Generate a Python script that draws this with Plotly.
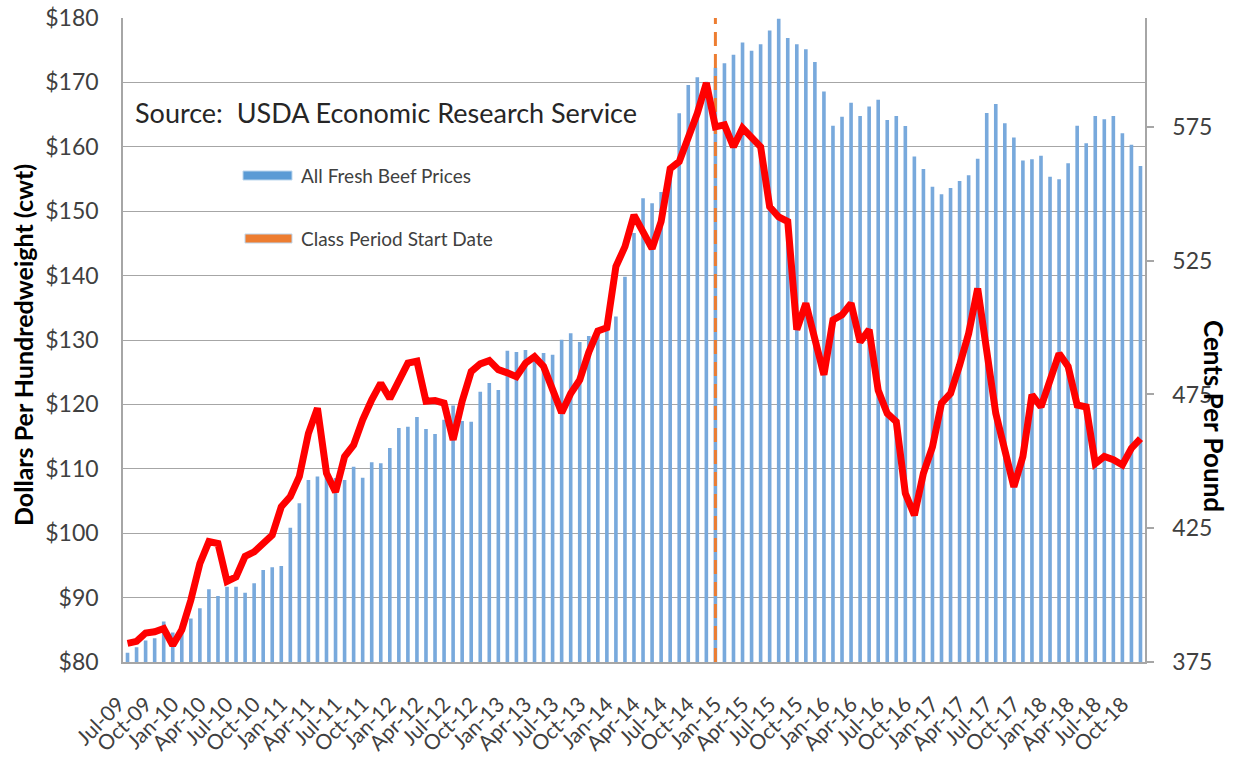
import plotly.graph_objects as go

# ---------------- data ----------------
months = [
    "Jul-09", "Aug-09", "Sep-09", "Oct-09", "Nov-09", "Dec-09",
    "Jan-10", "Feb-10", "Mar-10", "Apr-10", "May-10", "Jun-10", "Jul-10", "Aug-10", "Sep-10", "Oct-10", "Nov-10", "Dec-10",
    "Jan-11", "Feb-11", "Mar-11", "Apr-11", "May-11", "Jun-11", "Jul-11", "Aug-11", "Sep-11", "Oct-11", "Nov-11", "Dec-11",
    "Jan-12", "Feb-12", "Mar-12", "Apr-12", "May-12", "Jun-12", "Jul-12", "Aug-12", "Sep-12", "Oct-12", "Nov-12", "Dec-12",
    "Jan-13", "Feb-13", "Mar-13", "Apr-13", "May-13", "Jun-13", "Jul-13", "Aug-13", "Sep-13", "Oct-13", "Nov-13", "Dec-13",
    "Jan-14", "Feb-14", "Mar-14", "Apr-14", "May-14", "Jun-14", "Jul-14", "Aug-14", "Sep-14", "Oct-14", "Nov-14", "Dec-14",
    "Jan-15", "Feb-15", "Mar-15", "Apr-15", "May-15", "Jun-15", "Jul-15", "Aug-15", "Sep-15", "Oct-15", "Nov-15", "Dec-15",
    "Jan-16", "Feb-16", "Mar-16", "Apr-16", "May-16", "Jun-16", "Jul-16", "Aug-16", "Sep-16", "Oct-16", "Nov-16", "Dec-16",
    "Jan-17", "Feb-17", "Mar-17", "Apr-17", "May-17", "Jun-17", "Jul-17", "Aug-17", "Sep-17", "Oct-17", "Nov-17", "Dec-17",
    "Jan-18", "Feb-18", "Mar-18", "Apr-18", "May-18", "Jun-18", "Jul-18", "Aug-18", "Sep-18", "Oct-18", "Nov-18",
]

tick_labels = [
    "Jul-09", "Oct-09",
    "Jan-10", "Apr-10", "Jul-10", "Oct-10",
    "Jan-11", "Apr-11", "Jul-11", "Oct-11",
    "Jan-12", "Apr-12", "Jul-12", "Oct-12",
    "Jan-13", "Apr-13", "Jul-13", "Oct-13",
    "Jan-14", "Apr-14", "Jul-14", "Oct-14",
    "Jan-15", "Apr-15", "Jul-15", "Oct-15",
    "Jan-16", "Apr-16", "Jul-16", "Oct-16",
    "Jan-17", "Apr-17", "Jul-17", "Oct-17",
    "Jan-18", "Apr-18", "Jul-18", "Oct-18",
]

# All fresh beef retail prices (cents per pound) - bars, right axis
retail_beef_cents = [
    378.5, 380.5, 383.0, 383.9, 390.1, 386.0, 388.2, 391.3, 395.1, 402.2,
    399.7, 403.1, 403.1, 400.9, 404.4, 409.4, 410.4, 410.9, 425.2, 434.3,
    443.0, 444.3, 444.5, 443.8, 443.0, 448.0, 443.9, 449.7, 449.3, 455.0,
    462.5, 462.9, 466.6, 462.1, 460.2, 465.5, 470.9, 465.1, 464.8, 476.0,
    479.3, 476.7, 491.3, 490.9, 491.6, 489.8, 490.5, 489.8, 495.4, 497.9,
    494.6, 496.8, 499.1, 499.5, 504.1, 519.0, 535.3, 548.3, 546.5, 550.7,
    558.9, 580.1, 590.7, 593.6, 591.9, 597.1, 598.8, 602.0, 606.5, 603.5,
    605.9, 611.0, 615.4, 608.2, 605.9, 604.0, 599.3, 588.2, 575.4, 578.8,
    584.0, 579.1, 582.6, 585.1, 577.6, 579.1, 575.3, 563.9, 559.3, 552.6,
    549.8, 552.2, 554.8, 556.9, 563.1, 580.2, 583.6, 576.4, 571.0, 562.4,
    562.9, 564.2, 556.4, 555.4, 561.4, 575.4, 568.9, 579.1, 577.9, 579.1,
    572.6, 568.3, 560.4,
]

# Fed cattle prices (dollars per hundredweight) - red line, left axis
fed_cattle_dollars = [
    82.9, 83.2, 84.5, 84.7, 85.2, 82.6, 85.0, 89.6, 95.3, 98.7,
    98.4, 92.5, 93.2, 96.4, 97.1, 98.4, 99.7, 104.1, 105.7, 108.8,
    115.5, 119.4, 109.3, 106.4, 111.9, 113.7, 117.6, 120.7, 123.3, 120.9,
    123.5, 126.4, 126.7, 120.5, 120.6, 120.2, 114.5, 120.5, 125.1, 126.3,
    126.8, 125.4, 124.9, 124.3, 126.4, 127.4, 125.9, 122.0, 118.7, 121.7,
    123.8, 128.1, 131.4, 131.9, 141.4, 144.5, 149.4, 146.8, 144.2, 148.4,
    156.6, 157.7, 161.1, 165.2, 169.9, 163.1, 163.4, 160.0, 162.9, 161.3,
    160.0, 150.7, 149.1, 148.4, 131.6, 135.7, 130.5, 124.6, 133.1, 133.9,
    135.7, 129.7, 131.6, 122.2, 118.6, 117.3, 106.2, 102.8, 109.3, 113.4,
    120.2, 121.7, 126.1, 131.0, 138.0, 129.0, 118.6, 112.9, 107.2, 111.9,
    121.5, 119.6, 123.8, 127.9, 125.9, 119.9, 119.6, 110.8, 111.9, 111.4,
    110.6, 113.2, 114.7,
]

class_period_start = "Dec-14"

left_ticks = [80, 90, 100, 110, 120, 130, 140, 150, 160, 170, 180]
right_ticks = [375, 425, 475, 525, 575]

# ---------------- styling ----------------
FONT = "Lato"
GRID = "#A6A6A6"
TICK_COLOR = "#404040"
BLUE = "#78A9DC"
LEGEND_BLUE = "#5B9BD5"
ORANGE = "#ED7D31"

W, H = 1233, 757
# plot area in page pixels: x 123..1145, y 18..662
ML, MT = 123, 18
MR = W - 1145
MB = H - 662
PW, PH = W - ML - MR, H - MT - MB


def px_x(x):
    return (x - ML) / PW


def px_y(y):
    return (H - MB - y) / PH


fig = go.Figure()

fig.add_trace(go.Bar(
    x=months, y=retail_beef_cents, yaxis="y",
    marker=dict(color=BLUE, line=dict(width=0)),
    width=0.4, name="All Fresh Beef Prices", showlegend=False,
))

fig.add_trace(go.Scatter(
    x=[class_period_start, class_period_start], y=[left_ticks[0], left_ticks[-1]],
    yaxis="y2", mode="lines",
    line=dict(color=ORANGE, width=3, dash="14px,8px"),
    name="Class Period Start Date", showlegend=False,
))

fig.add_trace(go.Scatter(
    x=months, y=fed_cattle_dollars, yaxis="y2", mode="lines",
    line=dict(color="#FF0000", width=7),
    name="Fed Cattle Prices", showlegend=False,
))

fig.update_layout(
    width=W, height=H,
    margin=dict(l=ML, r=MR, t=MT, b=MB, autoexpand=False),
    paper_bgcolor="white", plot_bgcolor="white",
    font=dict(family=FONT, color=TICK_COLOR),
    bargap=0.6,
    xaxis=dict(
        type="category", range=[-0.5, len(months) - 0.5],
        tickmode="array", tickvals=tick_labels, ticktext=tick_labels,
        tickangle=-45, tickfont=dict(family=FONT, size=21, color=TICK_COLOR),
        showline=True, linecolor=GRID, linewidth=1.5,
        showgrid=False, ticks="", zeroline=False, automargin=False,
        ticklabelstandoff=20, ticklabelshift=-9,
    ),
    yaxis=dict(
        side="right", range=[375, 615.7],
        tickmode="array", tickvals=right_ticks,
        tickfont=dict(family=FONT, size=23, color=TICK_COLOR),
        showgrid=False, zeroline=False,
        showline=True, linecolor=GRID, linewidth=1.5,
        ticks="outside", ticklen=7, tickcolor=GRID, tickwidth=1.5,
        ticklabelstandoff=14, automargin=False, ticklabeloverflow="allow",
    ),
    yaxis2=dict(
        overlaying="y", side="left", range=[80, 180],
        tickmode="array", tickvals=left_ticks,
        ticktext=["$" + str(v) for v in left_ticks],
        tickfont=dict(family=FONT, size=23, color=TICK_COLOR),
        showgrid=True, gridcolor=GRID, gridwidth=1.3, zeroline=False,
        showline=True, linecolor=GRID, linewidth=1.5,
        ticks="", ticklabelstandoff=18, automargin=False, ticklabeloverflow="allow",
    ),
)

annotations = [
    dict(text="<b>Dollars Per Hundredweight (cwt)</b>", xref="paper", yref="paper",
         x=px_x(23), y=px_y(345), textangle=-90, showarrow=False,
         font=dict(family=FONT, size=25, color="#000000"),
         xanchor="center", yanchor="middle"),
    dict(text="<b>Cents Per Pound</b>", xref="paper", yref="paper",
         x=px_x(1214), y=px_y(416), textangle=90, showarrow=False,
         font=dict(family=FONT, size=26, color="#000000"),
         xanchor="center", yanchor="middle"),
    dict(text="Source:  USDA Economic Research Service", xref="paper", yref="paper",
         x=px_x(133), y=px_y(112), showarrow=False,
         font=dict(family=FONT, size=27, color="#262626"),
         xanchor="left", yanchor="middle"),
    dict(text="All Fresh Beef Prices", xref="paper", yref="paper",
         x=px_x(299), y=px_y(175), showarrow=False,
         font=dict(family=FONT, size=19, color="#404040"),
         xanchor="left", yanchor="middle"),
    dict(text="Class Period Start Date", xref="paper", yref="paper",
         x=px_x(299), y=px_y(238), showarrow=False,
         font=dict(family=FONT, size=19, color="#404040"),
         xanchor="left", yanchor="middle"),
]
fig.update_layout(annotations=annotations)

shapes = [
    dict(type="rect", xref="paper", yref="paper",
         x0=px_x(243), x1=px_x(292), y0=px_y(180), y1=px_y(171),
         fillcolor=LEGEND_BLUE, line=dict(color="#BDD7EE", width=1), layer="above"),
    dict(type="rect", xref="paper", yref="paper",
         x0=px_x(245), x1=px_x(292), y0=px_y(243), y1=px_y(234),
         fillcolor=ORANGE, line=dict(color="#BDD7EE", width=1), layer="above"),
]
fig.update_layout(shapes=shapes)

fig.write_html("out.html", config={"displayModeBar": False},
               post_script="document.body.style.margin='0';")
